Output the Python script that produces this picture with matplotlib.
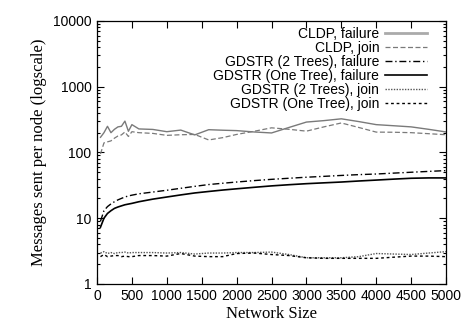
import matplotlib
matplotlib.use("Agg")
import matplotlib.pyplot as plt
from matplotlib.ticker import LogLocator, NullFormatter, FixedLocator

size = [50, 100, 150, 200, 250, 300, 350, 400, 450, 500, 600, 800, 1000, 1200,
        1400, 1600, 1800, 2000, 2250, 2500, 2750, 3000, 3250, 3500, 3750, 4000,
        4250, 4500, 4750, 5000]

cldp_fail = [170, 200, 250, 200, 225, 245, 250, 300, 210, 265, 228, 224, 207, 219,
             185, 222, 218, 215, 205, 198, 240, 290, 305, 325, 295, 265,
             255, 245, 225, 205]
cldp_join = [95, 140, 145, 150, 165, 178, 185, 205, 175, 207, 200, 195, 182, 186,
             188, 155, 168, 188, 210, 237, 225, 211, 245, 281, 240, 204,
             203, 200, 193, 186]
two_fail = [9, 13, 15, 16.5, 17.8, 19, 20, 21, 21.8, 22.4, 23.5, 25, 26.6, 28.5,
            30.5, 32.5, 34, 35.5, 37.3, 39, 40.5, 42, 43.3, 44.7, 46, 47,
            48.5, 50, 51.5, 53]
one_fail = [7.3, 10, 11.8, 13, 14.1, 14.8, 15.4, 16, 16.4, 16.8, 17.8, 19.5, 21, 22.6,
            24.2, 25.5, 26.8, 28, 29.5, 31, 32.3, 33.5, 34.5, 35.5, 36.8, 38,
            39.3, 40.5, 41, 41]
two_join = [2.95, 3.1, 2.9, 3.0, 2.9, 3.0, 3.0, 3.05, 2.95, 3.0, 3.0, 3.0, 2.95, 3.0,
            2.85, 2.95, 2.95, 3.0, 3.0, 3.05, 2.8, 2.5, 2.5, 2.5, 2.6, 2.9,
            2.85, 2.8, 2.95, 3.1]
one_join = [2.6, 2.8, 2.6, 2.65, 2.7, 2.7, 2.6, 2.65, 2.6, 2.6, 2.7, 2.7, 2.65, 2.9,
            2.65, 2.6, 2.6, 2.9, 2.95, 2.8, 2.7, 2.5, 2.45, 2.45, 2.45, 2.45,
            2.55, 2.65, 2.65, 2.6]

fig = plt.figure(figsize=(4.72, 3.36), dpi=100)
ax = fig.add_axes([0.2055, 0.155, 0.7395, 0.7825])

ax.plot(size, cldp_fail, color='#7a7a7a', lw=1.0, label='CLDP, failure')
ax.plot(size, cldp_join, color='#7a7a7a', lw=0.9, dashes=(4, 2), label='CLDP, join')
ax.plot(size, two_fail, color='black', lw=1.0, dashes=(5, 2, 1, 2), label='GDSTR (2 Trees), failure')
ax.plot(size, one_fail, color='black', lw=1.2, label='GDSTR (One Tree), failure')
ax.plot(size, two_join, color='#555555', lw=1.0, dashes=(1, 1), label='GDSTR (2 Trees), join')
ax.plot(size, one_join, color='black', lw=1.0, dashes=(2, 2), label='GDSTR (One Tree), join')

ax.set_yscale('log')
ax.set_xlim(0, 5000)
ax.set_ylim(1, 10000)
ax.xaxis.set_major_locator(FixedLocator(range(0, 5001, 500)))
ax.yaxis.set_major_locator(LogLocator(base=10))
ax.yaxis.set_minor_locator(LogLocator(base=10, subs=range(2, 10)))
ax.yaxis.set_minor_formatter(NullFormatter())
ax.set_yticks([1, 10, 100, 1000, 10000])
ax.set_yticklabels(['1', '10', '100', '1000', '10000'])

for lab in ax.get_xticklabels() + ax.get_yticklabels():
    lab.set_family('Liberation Sans')
    lab.set_fontsize(10)
ax.tick_params(which='both', direction='in', top=True, right=True, width=0.8)
ax.tick_params(which='major', length=5, pad=4)
ax.tick_params(which='minor', length=2.5)
for s in ax.spines.values():
    s.set_linewidth(0.9)

ax.set_xlabel('Network Size', family='Liberation Serif', fontsize=12, labelpad=2)
ax.set_ylabel('Messages sent per node (logscale)', family='Liberation Serif', fontsize=12, labelpad=4)

leg = ax.legend(loc='upper right', frameon=False, markerfirst=False,
                prop={'family': 'Liberation Sans', 'size': 10},
                handlelength=3, handletextpad=0.4, labelspacing=0.0,
                borderaxespad=0.0, bbox_to_anchor=(0.96, 0.997))
leg.get_lines()[0].set_linewidth(2.0)
leg.get_lines()[0].set_color('#aaaaaa')

fig.savefig('out.png', dpi=100)
